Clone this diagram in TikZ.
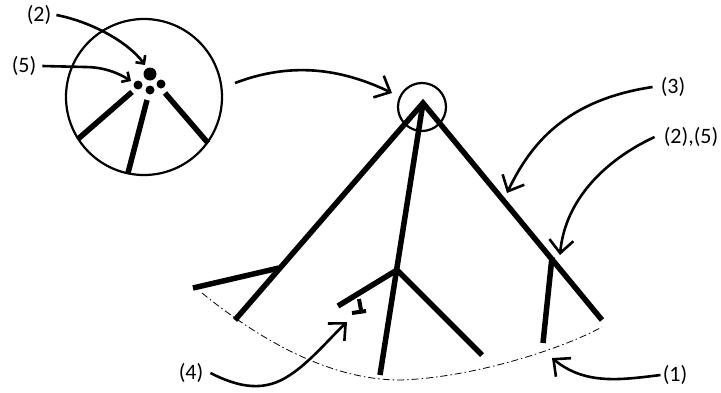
\documentclass[tikz,border=0pt]{standalone}
\usepackage{fontspec}
\setmainfont{Carlito}
\usetikzlibrary{arrows.meta}
\begin{document}
\begin{tikzpicture}[x=1pt, y=-1pt,
  every node/.style={font=\fontsize{22}{26}\selectfont, inner sep=0pt},
  branch/.style={line width=5.5pt},
  pointer/.style={line width=2.6pt, -{Straight Barb[length=13pt,width=24pt]}},
  smallpointer/.style={line width=2.6pt, -{Straight Barb[length=6pt,width=12pt]}},
  cutline/.style={line width=0.8pt, dash pattern=on 7pt off 3pt on 1.5pt off 3pt}]
  \useasboundingbox (0,0) rectangle (721,392);
  % Labels
  \node (lab2)  at (39,15)   {(2)};
  \node (lab5)  at (24,66)   {(5)};
  \node (lab3)  at (673,87)  {(3)};
  \node (lab25) at (691,137) {(2),(5)};
  \node (lab1)  at (675,375) {(1)};
  \node (lab4)  at (191,373) {(4)};
  % Tree points
  \coordinate (apex) at (423,103);
  \coordinate (lbot) at (235,320);
  \coordinate (lfork) at (279,268);
  \coordinate (lend) at (193,288);
  \coordinate (mbot) at (380,375);
  \coordinate (mfork) at (397,270);
  \coordinate (mleft) at (338,306);
  \coordinate (mright) at (482,355);
  \coordinate (rbot) at (602,320);
  \coordinate (rfork) at (552,257);
  \coordinate (rend) at (543,343);
  % Enlarged view
  \coordinate (zoomc) at (144,97);
  \draw[line width=2.2pt] (zoomc) circle (78);
  \fill (150,74) circle (6.5);
  \foreach \px/\py in {138/85, 150/90, 161/84}
    \fill (\px,\py) circle (4.5);
  \draw[branch] (132,92) -- (78,139);
  \draw[branch] (147,100) -- (128,173);
  \draw[branch] (165,93) -- (208,143);
  \draw[smallpointer] ([xshift=5pt]lab2.east) .. controls (92,22) and (128,42) .. (145,65);
  \draw[smallpointer] ([xshift=6pt]lab5.east) -- (85,67) .. controls (105,67) and (120,74) .. (131,81);
  % Apex circle
  \draw[line width=2.2pt] (422,107) circle (24);
  \draw[pointer] (235,83) .. controls (290,62) and (340,68) .. (392,93);
  % Tree
  \draw[branch] (lbot) -- (apex) -- (rbot);
  \draw[branch] (apex) -- (mbot);
  \draw[branch] (lend) -- (lfork);
  \draw[branch] (mleft) -- (mfork) -- (mright);
  \draw[branch] (rfork) -- (rend);
  \draw[line width=4pt] (359,299) -- (361,310);
  \draw[line width=4pt] (352,313) -- (366,311);
  % Cut line
  \draw[cutline] (202,293) .. controls (260,340) and (330,380) .. (400,380)
    .. controls (470,378) and (560,350) .. (602,327);
  % Pointers
  \draw[pointer] ([xshift=-8pt]lab3.west) .. controls (565,100) and (530,145) .. (507,193);
  \draw[pointer] ([xshift=-9pt]lab25.west) .. controls (605,160) and (565,200) .. (560,255);
  \draw[pointer] ([xshift=-2pt]lab1.west) .. controls (620,380) and (585,385) .. (552,358);
  \draw[pointer] ([xshift=7pt]lab4.east) .. controls (240,388) and (265,392) .. (290,375)
    .. controls (310,362) and (330,338) .. (347,322);
\end{tikzpicture}
\end{document}
